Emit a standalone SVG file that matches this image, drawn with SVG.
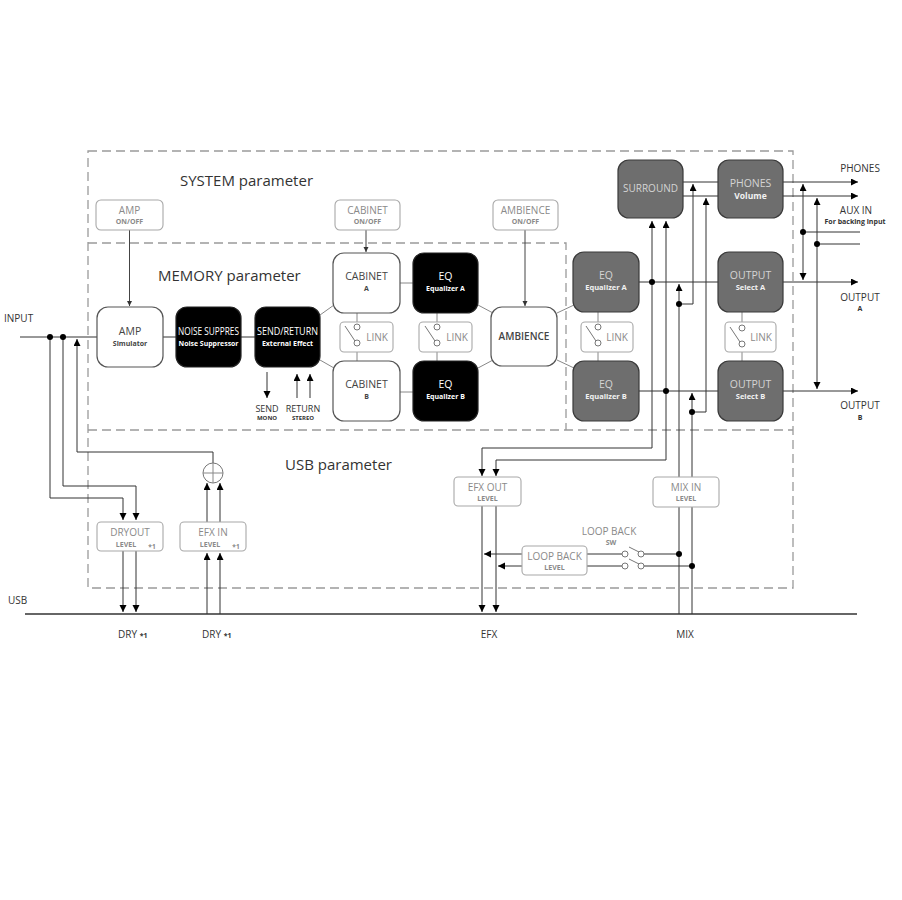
<svg xmlns="http://www.w3.org/2000/svg" width="902" height="900" viewBox="0 0 902 900">
<style>
text{font-family:"Open Sans","Liberation Sans",sans-serif;}
.m{font-size:10.5px;fill:#444;text-anchor:middle;}
.s{font-size:7px;font-weight:bold;fill:#444;text-anchor:middle;}
.gm{font-size:10px;fill:#8a8a8a;text-anchor:middle;}
.gs{font-size:7px;font-weight:bold;fill:#8a8a8a;text-anchor:middle;}
.wm{font-size:10.5px;fill:#fff;text-anchor:middle;}
.ws{font-size:7px;font-weight:bold;fill:#fff;text-anchor:middle;}
.lm{font-size:10.5px;fill:#d4d4d4;text-anchor:middle;}
.ls{font-size:7.5px;font-weight:bold;fill:#f2f2f2;text-anchor:middle;}
.title{font-size:15px;fill:#333;}
.lab{font-size:10px;fill:#333;}
.labc{font-size:10px;fill:#333;text-anchor:middle;}
.labs{font-size:7px;font-weight:bold;fill:#333;text-anchor:middle;}
.dash{fill:none;stroke:#9a9a9a;stroke-width:1.3;stroke-dasharray:9 5;}
.wn{fill:#fff;stroke:#555;stroke-width:1.2;}
.bn{fill:#000;stroke:#222;stroke-width:1.2;}
.gn{fill:#6e6e6e;stroke:#3a3a3a;stroke-width:1.2;}
.pb{fill:#fff;stroke:#a8a8a8;stroke-width:1.1;}
.c{fill:none;stroke:#333;stroke-width:1;}
.cg{fill:none;stroke:#888;stroke-width:1;}
.ca{fill:none;stroke:#333;stroke-width:1;marker-end:url(#ah);}
.cs{fill:none;stroke:#444;stroke-width:1;marker-end:url(#sh);}
.dot{fill:#000;}
.sw{fill:#fff;stroke:#777;stroke-width:1;}
.swl{fill:none;stroke:#777;stroke-width:1;}
</style>
<defs>
<marker id="ah" markerUnits="userSpaceOnUse" markerWidth="8" markerHeight="8" refX="7" refY="3.5" orient="auto"><path d="M0,0 L7,3.5 L0,7 z" fill="#000"/></marker>
<marker id="sh" markerUnits="userSpaceOnUse" markerWidth="6" markerHeight="6" refX="5" refY="2.5" orient="auto"><path d="M0,0 L5,2.5 L0,5 z" fill="#333"/></marker>
</defs>
<rect x="0" y="0" width="902" height="900" fill="#fff"/>

<g id="regions">
<path class="dash" d="M88,151 H793 V588 H88 Z"/>
<path class="dash" d="M88,243 H566 V430"/>
<path class="dash" d="M88,430 H793"/>
<text class="title" x="180" y="186">SYSTEM parameter</text>
<text class="title" x="158" y="281">MEMORY parameter</text>
<text class="title" x="285" y="470">USB parameter</text>
</g>

<g id="connectors">
<path class="c" d="M20,337 H97 M163,337 H176 M241,337 H255"/>
<path class="cs" d="M129.5,230 V306"/>
<path class="cs" d="M366,230 V252"/>
<path class="cs" d="M525,230 V306"/>
<path class="ca" d="M267,372 V398"/>
<path class="ca" d="M297,398 V374"/>
<path class="ca" d="M310,398 V374"/>
<path class="cg" d="M320,315 L334,305 M320,360 L334,368 M400,283 H413 M399,392 H413 M478,305 L493,313 M478,368 L493,360 M557,313 L574,305 M557,360 L574,368"/>
<path class="cg" d="M357,313 V324 M357,346 V361 M437,313 V324 M437,346 V361 M598,312 V324 M598,346 V361 M742,312 V325 M742,347 V361"/>
<path class="c" d="M639,282 H718 M639,391 H718 M683,182 H718 M683,196 H718"/>
<path class="ca" d="M652,282 V448 H482 V476"/>
<path class="ca" d="M652,282 V221"/>
<path class="ca" d="M666,391 V460 H496 V476"/>
<path class="ca" d="M666,391 V221"/>
<path class="ca" d="M679,614 V284"/>
<path class="ca" d="M679,304 H693 V184"/>
<path class="ca" d="M692,614 V393"/>
<path class="ca" d="M692,412 H706 V198"/>
<path class="ca" d="M783,182 H858"/>
<path class="ca" d="M783,196 H858"/>
<path class="ca" d="M783,282 H858"/>
<path class="ca" d="M783,391 H858"/>
<path class="ca" d="M803,232 V184"/>
<path class="ca" d="M803,232 V280"/>
<path class="c" d="M803,232 H860"/>
<path class="ca" d="M817,244 V198"/>
<path class="ca" d="M817,244 V389"/>
<path class="c" d="M817,244 H860"/>
<path class="ca" d="M50,337 V498 H123 V520"/>
<path class="ca" d="M63,337 V486 H136 V520"/>
<path class="ca" d="M77,452 V339"/>
<path class="c" d="M77,452 H213 V463"/>
<path class="ca" d="M123,551 V612"/>
<path class="ca" d="M136,551 V612"/>
<path class="ca" d="M207,614 V553"/>
<path class="ca" d="M220,614 V553"/>
<path class="ca" d="M207,522 V483"/>
<path class="ca" d="M220,522 V483"/>
<path class="ca" d="M482,506 V612"/>
<path class="ca" d="M496,506 V612"/>
<path class="c" d="M679,554 H644 M622,554 H587"/>
<path class="ca" d="M522,554 H484"/>
<path class="c" d="M692,566 H644 M622,566 H587"/>
<path class="ca" d="M522,566 H498"/>
<path class="c" d="M25,614 H857" style="stroke-width:1.4"/>
<circle class="dot" cx="50" cy="337" r="3"/>
<circle class="dot" cx="63" cy="337" r="3"/>
<circle class="dot" cx="652" cy="282" r="3"/>
<circle class="dot" cx="666" cy="391" r="3"/>
<circle class="dot" cx="679" cy="304" r="3"/>
<circle class="dot" cx="692" cy="412" r="3"/>
<circle class="dot" cx="803" cy="232" r="3"/>
<circle class="dot" cx="817" cy="244" r="3"/>
<circle class="dot" cx="679" cy="554" r="3"/>
<circle class="dot" cx="692" cy="566" r="3"/>
</g>

<g id="amp-onoff"><rect class="pb" x="96" y="200" width="67" height="30" rx="5"/><text class="gm" x="129.5" y="214">AMP</text><text class="gs" x="129.5" y="224">ON/OFF</text></g>
<g id="amp-sim"><rect class="wn" x="97" y="307" width="66" height="60" rx="11"/><text class="m" x="130" y="335">AMP</text><text class="s" x="130" y="346">Simulator</text></g>
<g id="noise"><rect class="bn" x="176" y="307" width="65" height="60" rx="11"/><text class="wm" x="208.5" y="335" textLength="61" lengthAdjust="spacingAndGlyphs">NOISE SUPPRES</text><text class="ws" x="208.5" y="346" textLength="60" lengthAdjust="spacingAndGlyphs">Noise Suppressor</text></g>
<g id="sendreturn"><rect class="bn" x="255" y="307" width="65" height="60" rx="11"/><text class="wm" x="287.5" y="335" textLength="61" lengthAdjust="spacingAndGlyphs">SEND/RETURN</text><text class="ws" x="287.5" y="346">External Effect</text></g>
<g id="send-label"><text class="labc" x="267" y="412" style="font-size:9px">SEND</text><text class="labs" x="267" y="420" style="font-size:6px">MONO</text></g>
<g id="return-label"><text class="labc" x="303" y="412" style="font-size:9px">RETURN</text><text class="labs" x="303" y="420" style="font-size:6px">STEREO</text></g>

<g id="cab-onoff"><rect class="pb" x="335" y="200" width="65" height="30" rx="5"/><text class="gm" x="367.5" y="214">CABINET</text><text class="gs" x="367.5" y="224">ON/OFF</text></g>
<g id="cab-a"><rect class="wn" x="333" y="253" width="67" height="60" rx="11"/><text class="m" x="366.5" y="280">CABINET</text><text class="s" x="366.5" y="291">A</text></g>
<g id="cab-b"><rect class="wn" x="333" y="361" width="67" height="60" rx="11"/><text class="m" x="366.5" y="388">CABINET</text><text class="s" x="366.5" y="399">B</text></g>
<g id="eq-a"><rect class="bn" x="413" y="253" width="65" height="60" rx="11"/><text class="wm" x="445.5" y="280">EQ</text><text class="ws" x="445.5" y="291">Equalizer A</text></g>
<g id="eq-b"><rect class="bn" x="413" y="361" width="65" height="60" rx="11"/><text class="wm" x="445.5" y="388">EQ</text><text class="ws" x="445.5" y="399">Equalizer B</text></g>

<g id="link1"><rect class="pb" x="340" y="322" width="53" height="30" rx="4"/><circle class="sw" cx="357" cy="327" r="3"/><circle class="sw" cx="357" cy="343" r="3"/><path class="swl" d="M355,341 L345,326"/><text class="gm" x="377" y="341">LINK</text></g>
<g id="link2"><rect class="pb" x="419" y="322" width="53" height="30" rx="4"/><circle class="sw" cx="437" cy="327" r="3"/><circle class="sw" cx="437" cy="343" r="3"/><path class="swl" d="M435,341 L425,326"/><text class="gm" x="457" y="341">LINK</text></g>

<g id="amb-onoff"><rect class="pb" x="493" y="200" width="65" height="30" rx="5"/><text class="gm" x="525.5" y="214">AMBIENCE</text><text class="gs" x="525.5" y="224">ON/OFF</text></g>
<g id="ambience"><rect class="wn" x="491" y="307" width="66" height="59" rx="11"/><text class="m" x="524" y="340" style="font-weight:600;font-size:10px">AMBIENCE</text></g>

<g id="geq-a"><rect class="gn" x="573" y="252" width="66" height="60" rx="11"/><text class="lm" x="606" y="279">EQ</text><text class="ls" x="606" y="290">Equalizer A</text></g>
<g id="geq-b"><rect class="gn" x="573" y="361" width="66" height="60" rx="11"/><text class="lm" x="606" y="388">EQ</text><text class="ls" x="606" y="399">Equalizer B</text></g>
<g id="link3"><rect class="pb" x="581" y="322" width="52" height="30" rx="4"/><circle class="sw" cx="598" cy="327" r="3"/><circle class="sw" cx="598" cy="343" r="3"/><path class="swl" d="M596,341 L586,326"/><text class="gm" x="617" y="341">LINK</text></g>
<g id="surround"><rect class="gn" x="618" y="160" width="65" height="58" rx="11"/><text class="lm" x="650.5" y="192" style="font-size:10px">SURROUND</text></g>
<g id="phones"><rect class="gn" x="718" y="160" width="65" height="58" rx="11"/><text class="lm" x="750.5" y="187">PHONES</text><text class="ls" x="750.5" y="199" style="font-size:8.5px">Volume</text></g>
<g id="out-a"><rect class="gn" x="718" y="252" width="65" height="60" rx="11"/><text class="lm" x="750.5" y="279">OUTPUT</text><text class="ls" x="750.5" y="290">Select A</text></g>
<g id="out-b"><rect class="gn" x="718" y="361" width="65" height="60" rx="11"/><text class="lm" x="750.5" y="388">OUTPUT</text><text class="ls" x="750.5" y="399">Select B</text></g>
<g id="link4"><rect class="pb" x="725" y="322" width="51" height="30" rx="4"/><circle class="sw" cx="742" cy="328" r="3"/><circle class="sw" cx="742" cy="344" r="3"/><path class="swl" d="M740,342 L730,327"/><text class="gm" x="761" y="341">LINK</text></g>

<g id="io-labels">
<text class="lab" x="4" y="322">INPUT</text>
<text class="labc" x="860" y="172">PHONES</text>
<text class="labc" x="856" y="214">AUX IN</text>
<text class="labs" x="855" y="224">For backing input</text>
<text class="labc" x="860" y="301">OUTPUT</text>
<text class="labs" x="860" y="311">A</text>
<text class="labc" x="860" y="409">OUTPUT</text>
<text class="labs" x="860" y="420">B</text>
<text class="lab" x="8" y="604">USB</text>
<text class="lab" x="118" y="638">DRY <tspan style="font-size:7px;font-weight:bold">*1</tspan></text>
<text class="lab" x="202" y="638">DRY <tspan style="font-size:7px;font-weight:bold">*1</tspan></text>
<text class="labc" x="489" y="638">EFX</text>
<text class="labc" x="685" y="638">MIX</text>
</g>

<g id="mixer"><circle cx="213" cy="473" r="10" fill="#fff" stroke="#777" stroke-width="1"/><path class="cg" d="M213,463 V483 M203,473 H223"/></g>
<g id="dryout"><rect class="pb" x="97" y="522" width="66" height="29" rx="4"/><text class="gm" x="130" y="536">DRYOUT</text><text class="gs" x="126" y="547">LEVEL</text><text class="gs" x="152" y="549" style="font-size:6.5px">*1</text></g>
<g id="efxin"><rect class="pb" x="180" y="522" width="66" height="29" rx="4"/><text class="gm" x="213" y="536">EFX IN</text><text class="gs" x="210" y="547">LEVEL</text><text class="gs" x="236" y="549" style="font-size:6.5px">*1</text></g>
<g id="efxout"><rect class="pb" x="454" y="477" width="67" height="29" rx="4"/><text class="gm" x="487.5" y="491">EFX OUT</text><text class="gs" x="487.5" y="501">LEVEL</text></g>
<g id="mixin"><rect class="pb" x="653" y="477" width="66" height="30" rx="4"/><text class="gm" x="686" y="491">MIX IN</text><text class="gs" x="686" y="501">LEVEL</text></g>
<g id="loopback-level"><rect class="pb" x="522" y="546" width="65" height="29" rx="4"/><text class="gm" x="554.5" y="560">LOOP BACK</text><text class="gs" x="554.5" y="570">LEVEL</text></g>
<g id="loopback-sw">
<text class="gm" x="609" y="535">LOOP BACK</text><text class="gs" x="611" y="545">SW</text>
<circle class="sw" cx="625" cy="554" r="3"/><circle class="sw" cx="641" cy="554" r="3"/><path class="swl" d="M629,547 L639,552"/>
<circle class="sw" cx="625" cy="566" r="3"/><circle class="sw" cx="641" cy="566" r="3"/><path class="swl" d="M629,559 L639,564"/>
</g>
</svg>
